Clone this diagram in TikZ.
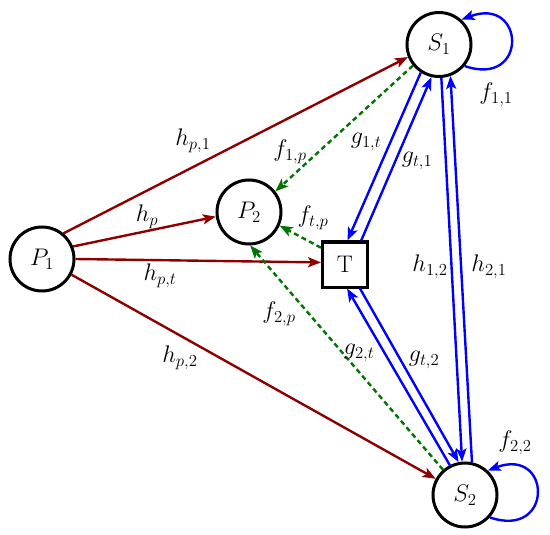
\RequirePackage{fix-cm}
\documentclass[tikz,border=0pt]{standalone}
\usetikzlibrary{arrows.meta}
\definecolor{edgered}{rgb}{0.55,0,0}
\definecolor{edgegreen}{rgb}{0,0.45,0}
\definecolor{edgeblue}{rgb}{0,0,1}
\begin{document}
\begin{tikzpicture}[x=1pt,y=-1pt,
  every node/.style={font=\fontsize{24}{29}\selectfont},
  state/.style={circle,draw,line width=3pt,minimum size=64pt,inner sep=0pt},
  relay/.style={rectangle,draw,line width=3pt,minimum size=45pt,inner sep=0pt},
  lbl/.style={inner sep=0pt},
  tipped/.style={-{Stealth[length=13pt,width=10pt,inset=3pt]}},
  redge/.style={tipped,draw=edgered,line width=2.4pt},
  gedge/.style={tipped,draw=edgegreen,line width=2.4pt,dash pattern=on 5pt off 3.5pt},
  bedge/.style={tipped,draw=edgeblue,line width=2.4pt}]
\useasboundingbox (0,0) rectangle (550,535);
% nodes
\node[state] (P1) at (42,259) {$P_1$};
\node[state] (P2) at (249,212) {$P_2$};
\node[relay] (T) at (345,264.5) {T};
\node[state] (S1) at (439,44.5) {$S_1$};
\node[state] (S2) at (465,495) {$S_2$};
% red edges
\draw[redge] (P1.50) -- (S1.202);
\draw[redge] (P1.22) -- (P2.188);
\draw[redge] (P1.0) -- (T.175);
\draw[redge] (P1.-28) -- (S2.151);
% green edges
\draw[gedge] (S1.219) -- (P2.38);
\draw[gedge] (T.145) -- (P2.336);
\draw[gedge] (S2.131) -- (P2.272);
% blue edges
\draw[bedge] (S1.237) -- (T.84);
\draw[bedge] (T.56) -- (S1.257);
\draw[bedge] (S1.274) -- (S2.95);
\draw[bedge] (S2.78) -- (S1.290);
\draw[bedge] (T.302) -- (S2.101);
\draw[bedge] (S2.117) -- (T.275);
% self loops
\draw[bedge] (S1.-40) .. controls +(64,22) and +(64,-24) .. (S1.48);
\draw[bedge] (S2.-42) .. controls +(64,22) and +(64,-24) .. (S2.47);
% labels
\node[lbl] (lf11) at (496,95) {$f_{1,1}$};
\node[lbl] (lf22) at (515,443) {$f_{2,2}$};
\node[lbl] (lhp1) at (193,141) {$h_{p,1}$};
\node[lbl] (lhp) at (147,217) {$h_{p}$};
\node[lbl] (lhpt) at (160,276) {$h_{p,t}$};
\node[lbl] (lhp2) at (180,358) {$h_{p,2}$};
\node[lbl] (lf1p) at (290,152) {$f_{1,p}$};
\node[lbl] (lg1t) at (366,142) {$g_{1,t}$};
\node[lbl] (lgt1) at (417,161) {$g_{t,1}$};
\node[lbl] (lftp) at (313,218) {$f_{t,p}$};
\node[lbl] (lf2p) at (279,314) {$f_{2,p}$};
\node[lbl] (lg2t) at (359,353) {$g_{2,t}$};
\node[lbl] (lgt2) at (424,360) {$g_{t,2}$};
\node[lbl] (lh12) at (430,267) {$h_{1,2}$};
\node[lbl] (lh21) at (489,267) {$h_{2,1}$};
\end{tikzpicture}
\end{document}
